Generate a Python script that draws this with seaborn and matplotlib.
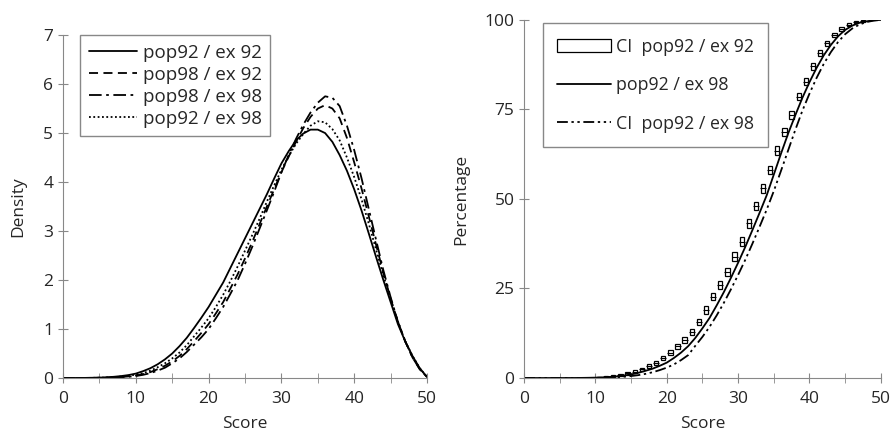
import seaborn as sns
import matplotlib.pyplot as plt
import pandas as pd
import numpy as np

# density curves (left panel)
score_d = list(range(0, 51))
pop92_ex92 = [0, 0, 0, 0.002, 0.005, 0.008, 0.015, 0.025, 0.04, 0.06,
              0.09, 0.14, 0.2, 0.28, 0.38, 0.5, 0.65, 0.82, 1.02, 1.23,
              1.45, 1.7, 1.95, 2.25, 2.55, 2.85, 3.15, 3.45, 3.75, 4.07,
              4.38, 4.63, 4.85, 4.99, 5.07, 5.07, 5.0, 4.82, 4.55, 4.23,
              3.85, 3.42, 2.95, 2.47, 2.0, 1.55, 1.1, 0.75, 0.45, 0.2, 0.02]
pop98_ex92 = [0, 0, 0, 0.001, 0.002, 0.004, 0.008, 0.013, 0.02, 0.033,
              0.05, 0.08, 0.12, 0.18, 0.25, 0.34, 0.45, 0.59, 0.75, 0.92,
              1.1, 1.32, 1.55, 1.83, 2.12, 2.44, 2.78, 3.14, 3.5, 3.85,
              4.2, 4.52, 4.82, 5.1, 5.33, 5.5, 5.57, 5.5, 5.3, 4.9,
              4.4, 3.87, 3.3, 2.72, 2.15, 1.62, 1.15, 0.75, 0.42, 0.18, 0.02]
pop98_ex98 = [0, 0, 0, 0, 0.002, 0.003, 0.006, 0.01, 0.015, 0.025,
              0.04, 0.065, 0.1, 0.15, 0.21, 0.3, 0.4, 0.53, 0.68, 0.83,
              1.0, 1.22, 1.45, 1.72, 2.0, 2.33, 2.68, 3.05, 3.42, 3.8,
              4.2, 4.55, 4.88, 5.17, 5.42, 5.62, 5.75, 5.72, 5.55, 5.15,
              4.65, 4.08, 3.45, 2.82, 2.2, 1.65, 1.15, 0.75, 0.42, 0.18, 0.02]
pop92_ex98 = [0, 0, 0, 0.001, 0.003, 0.006, 0.01, 0.017, 0.03, 0.045,
              0.07, 0.1, 0.15, 0.22, 0.3, 0.4, 0.52, 0.67, 0.85, 1.03,
              1.22, 1.45, 1.7, 1.98, 2.28, 2.6, 2.92, 3.25, 3.6, 3.93,
              4.25, 4.53, 4.78, 4.98, 5.15, 5.24, 5.22, 5.08, 4.85, 4.5,
              4.1, 3.65, 3.15, 2.62, 2.1, 1.6, 1.15, 0.75, 0.45, 0.2, 0.02]

# cumulative percentages (right panel)
score_c = list(range(0, 51))
cum_pop92_ex98 = [0, 0, 0, 0, 0, 0, 0.01, 0.015, 0.03, 0.06, 0.1, 0.18, 0.3, 0.45, 0.7,
                  1.0, 1.45, 2.0, 2.6, 3.4, 4.3, 5.6, 7.1, 8.9, 11.2, 13.9, 16.8, 20.3,
                  24.0, 28.0, 32.2, 36.6, 41.3, 46.1, 51.0, 56.8, 62.6, 68.2, 73.3, 78.2,
                  82.6, 86.6, 90.1, 93.0, 95.4, 97.2, 98.4, 99.2, 99.6, 99.9, 100]
ci_cum_pop92_ex98 = [0, 0, 0, 0, 0, 0, 0, 0.005, 0.01, 0.02, 0.04, 0.07, 0.13, 0.22, 0.35,
                     0.55, 0.8, 1.15, 1.6, 2.2, 2.9, 3.8, 5.0, 6.4, 9.0, 11.5, 14.3, 17.5,
                     21.0, 24.8, 28.8, 33.0, 37.5, 42.2, 47.0, 52.2, 57.8, 63.5, 69.2, 74.6,
                     79.4, 83.8, 87.7, 91.0, 93.8, 96.0, 97.6, 98.7, 99.4, 99.8, 100]

# CI boxes pop92 / ex92
ci_score = [x + 0.5 for x in range(10, 48)]
ci_mid = [0.2, 0.35, 0.55, 0.8, 1.3, 1.8, 2.4, 3.4, 4.3, 5.5, 7.1, 8.8, 10.6, 12.9, 15.7,
          19.0, 22.7, 26.0, 29.7, 33.9, 38.1, 43.2, 48.0, 53.0, 58.1, 63.5, 68.8, 73.5,
          78.6, 82.8, 87.0, 90.7, 93.5, 95.8, 97.5, 98.6, 99.3, 99.7]
ci_half = [0.2, 0.2, 0.25, 0.3, 0.35, 0.4, 0.45, 0.5, 0.55, 0.6, 0.7, 0.75, 0.8, 0.85, 0.9,
           1.0, 1.0, 1.1, 1.1, 1.2, 1.2, 1.2, 1.2, 1.2, 1.2, 1.2, 1.1, 1.1, 1.0, 1.0, 0.9,
           0.8, 0.7, 0.6, 0.5, 0.4, 0.3, 0.2]

sns.set_style("ticks")
plt.rcParams['font.family'] = ['Open Sans', 'DejaVu Sans']

fig = plt.figure(figsize=(8.96, 4.33), dpi=100)
ax1 = fig.add_axes([0.0703, 0.127, 0.4063, 0.792])
ax2 = fig.add_axes([0.585, 0.127, 0.398, 0.827])

dens = pd.DataFrame({"score": score_d, "pop92 / ex 92": pop92_ex92, "pop98 / ex 92": pop98_ex92,
                     "pop98 / ex 98": pop98_ex98, "pop92 / ex 98": pop92_ex98})
styles = {"pop92 / ex 92": "-", "pop98 / ex 92": (0, (5, 3)),
          "pop98 / ex 98": (0, (7, 2.5, 1.5, 2.5)), "pop92 / ex 98": (0, (1, 1.4))}
for name, ls in styles.items():
    sns.lineplot(data=dens, x="score", y=name, ax=ax1, color="black", lw=1.3,
                 linestyle=ls, label=name)

ax1.set_xlim(0, 50)
ax1.set_ylim(0, 7)
ax1.set_xticks(range(0, 51, 10))
ax1.set_xticks(range(5, 50, 10), minor=True)
ax1.set_xlabel("Score")
ax1.set_ylabel("Density", labelpad=12)
ax1.legend(loc="upper left", bbox_to_anchor=(0.047, 1.0), frameon=True, fancybox=False,
           edgecolor="#888888", framealpha=1, handlelength=2.6, labelspacing=0.22,
           borderpad=0.45, handletextpad=0.3, fontsize=13.5, borderaxespad=0)

# right panel
cum = pd.DataFrame({"score": score_c, "pop92 / ex 98": cum_pop92_ex98,
                    "CI pop92 / ex 98": ci_cum_pop92_ex98})
lo = np.array(ci_mid) - np.array(ci_half)
hi = np.array(ci_mid) + np.array(ci_half)
ax2.bar(ci_score, hi - lo, bottom=lo, width=0.6, fill=False, edgecolor="black",
        linewidth=0.9, label="CI  pop92 / ex 92")
ax2.scatter(ci_score, ci_mid, marker="_", s=14, color="black", linewidths=0.8)
sns.lineplot(data=cum, x="score", y="pop92 / ex 98", ax=ax2, color="black", lw=1.3,
             label="pop92 / ex 98")
sns.lineplot(data=cum, x="score", y="CI pop92 / ex 98", ax=ax2, color="black", lw=1.3,
             linestyle=(0, (6, 2, 1.3, 2, 1.3, 2)), label="CI  pop92 / ex 98")

ax2.set_xlim(0, 50)
ax2.set_ylim(0, 100)
ax2.set_xticks(range(0, 51, 10))
ax2.set_xticks(range(5, 50, 10), minor=True)
ax2.set_yticks([0, 25, 50, 75, 100])
ax2.set_xlabel("Score")
ax2.set_ylabel("Percentage", labelpad=11)
h, l = ax2.get_legend_handles_labels()
order = [l.index("CI  pop92 / ex 92"), l.index("pop92 / ex 98"), l.index("CI  pop92 / ex 98")]
ax2.legend([h[i] for i in order], [l[i] for i in order], loc="upper left",
           bbox_to_anchor=(0.053, 0.99), frameon=True, fancybox=False,
           edgecolor="#888888", framealpha=1, handlelength=3.0, labelspacing=1.15,
           borderpad=0.8, handletextpad=0.3, fontsize=12.8, borderaxespad=0)

for ax in (ax1, ax2):
    sns.despine(ax=ax)
    for s in ("left", "bottom"):
        ax.spines[s].set_color("#888888")
    ax.tick_params(which="both", direction="inout", color="#888888", labelsize=12.5,
                   length=7)
    ax.tick_params(axis="x", which="major", pad=6)
    ax.xaxis.label.set_size(12.5)
    ax.yaxis.label.set_size(12.5)
    ax.xaxis.labelpad = 6

fig.savefig("out.png", dpi=100)
